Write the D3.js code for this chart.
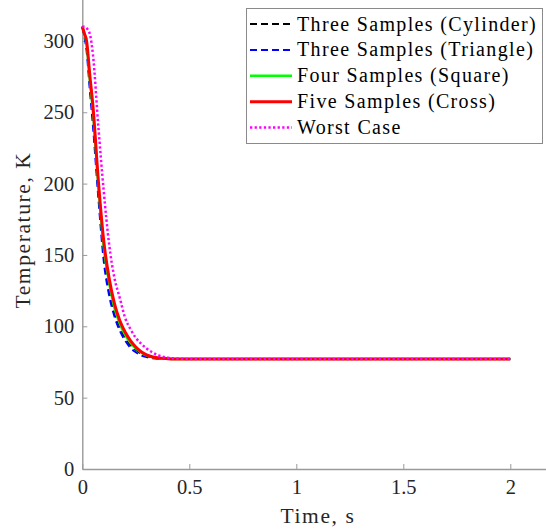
<!DOCTYPE html>
<html>
<head>
<meta charset="utf-8">
<script src="https://cdn.jsdelivr.net/npm/d3@7"></script>
</head>
<body style="margin:0">
<script>
var FONT_CSS = "font-family: 'Liberation Serif', 'Times New Roman', serif;";

// time samples (s) shared by all series
var timeS = [0, 0.01, 0.02, 0.035, 0.05, 0.075, 0.1, 0.125, 0.15, 0.175, 0.2, 0.225, 0.25, 0.275, 0.3, 0.325, 0.35, 0.4, 0.45, 0.5, 1, 1.5, 2];

// temperatures (K)
var cylinder = [310, 304, 296, 270, 245, 195, 151, 126, 110, 100, 92, 87, 83.5, 80.8, 79.2, 78.2, 77.6, 77.2, 77.05, 77, 77, 77, 77];
var triangle = [310, 303, 293, 266, 240, 190, 146, 122, 107, 97, 90, 85, 81.8, 79.6, 78.4, 77.7, 77.3, 77.1, 77, 77, 77, 77, 77];
var square   = [310, 305, 298, 273, 250, 199, 156, 131, 113, 102, 94, 88.5, 84.5, 81.6, 79.6, 78.5, 77.8, 77.3, 77.1, 77, 77, 77, 77];
var cross    = [310, 305, 300, 276, 254, 202, 160, 134, 116, 104, 96, 90, 85.5, 82.2, 80, 78.7, 77.9, 77.3, 77.1, 77, 77, 77, 77];
var worst    = [310, 310, 309, 305, 290, 240, 195, 158, 134, 120, 106, 98, 92, 87.8, 84.5, 82, 80, 78, 77.4, 77.1, 77, 77, 77];

var seriesNames = ["Three Samples (Cylinder)", "Three Samples (Triangle)", "Four Samples (Square)", "Five Samples (Cross)", "Worst Case"];
var seriesValues = [cylinder, triangle, square, cross, worst];

var xTicks = [0, 0.5, 1, 1.5, 2];
var yTicks = [0, 50, 100, 150, 200, 250, 300];

// line styles per series
var styles = [
  {color: "#000000", width: 2, dash: "7,4"},
  {color: "#0000ff", width: 2, dash: "7,4"},
  {color: "#00ff00", width: 2.5, dash: null},
  {color: "#ff0000", width: 3, dash: null},
  {color: "#ff00ff", width: 2.5, dash: "2.3,2.3"}
];

var W = 546, H = 531;
var X0 = 82.3, Y0 = 469;

var svg = d3.select("body").append("svg")
  .attr("width", W)
  .attr("height", H);

svg.append("style").text("text { font-family: 'Liberation Serif', 'Times New Roman', serif !important; }");

var x = d3.scaleLinear().domain([0, 2.2]).range([X0, X0 + 2.2 * 214]);
var y = d3.scaleLinear().domain([0, 335]).range([Y0, Y0 - 335 * 1.427]);

// axes, ticks pointing inwards like matlab
var gx = svg.append("g")
  .attr("transform", "translate(0," + Y0 + ")")
  .call(d3.axisBottom(x).tickValues(xTicks).tickFormat(d3.format("")).tickSizeInner(-5).tickSizeOuter(0).tickPadding(10));

var gy = svg.append("g")
  .attr("transform", "translate(" + X0 + ",0)")
  .call(d3.axisLeft(y).tickValues(yTicks).tickFormat(d3.format("d")).tickSizeInner(-5).tickSizeOuter(0).tickPadding(8));

svg.selectAll(".domain").attr("stroke", "#9a9a9a").attr("stroke-width", 1.4)
svg.selectAll(".tick line").attr("stroke", "#9a9a9a").attr("stroke-width", 1)
svg.selectAll(".tick text")
  .attr("fill", "#262626")
  .attr("style", FONT_CSS + " font-size: 20.5px;")

// series lines
var line = d3.line()
  .x(function(d) { return x(d[0]) })
  .y(function(d) { return y(d[1]) })
  .curve(d3.curveMonotoneX);

seriesValues.forEach(function(vals, i) {
  var pts = timeS.map(function(t, j) { return [t, vals[j]] });
  svg.append("path")
    .datum(pts)
    .attr("d", line)
    .attr("fill", "none")
    .attr("stroke", styles[i].color)
    .attr("stroke-width", styles[i].width)
    .attr("stroke-dasharray", styles[i].dash);
});

// axis labels
svg.append("text")
  .attr("x", 318)
  .attr("y", 522.5)
  .attr("text-anchor", "middle")
  .attr("fill", "#262626")
  .attr("style", FONT_CSS + " font-size: 21.5px; letter-spacing: 1.6px;")
  .text("Time, s");

svg.append("text")
  .attr("transform", "translate(29.5,230) rotate(-90)")
  .attr("text-anchor", "middle")
  .attr("fill", "#262626")
  .attr("style", FONT_CSS + " font-size: 21.5px; letter-spacing: 1.6px;")
  .text("Temperature, K");

// legend
var legend = svg.append("g");
legend.append("rect")
  .attr("x", 246.5)
  .attr("y", 8.5)
  .attr("width", 296)
  .attr("height", 135)
  .attr("fill", "#fff")
  .attr("stroke", "#8a8a8a")
  .attr("stroke-width", 1);

seriesNames.forEach(function(name, i) {
  var ly = 24 + i * 25.9;
  legend.append("line")
    .attr("x1", 250)
    .attr("x2", 292)
    .attr("y1", ly)
    .attr("y2", ly)
    .attr("stroke", styles[i].color)
    .attr("stroke-width", styles[i].width)
    .attr("stroke-dasharray", styles[i].dash);
  legend.append("text")
    .attr("x", 297)
    .attr("y", ly + 6.5)
    .attr("fill", "#000")
    .attr("style", FONT_CSS + " font-size: 20px; letter-spacing: 1.35px;")
    .text(name);
});
</script>
</body>
</html>
